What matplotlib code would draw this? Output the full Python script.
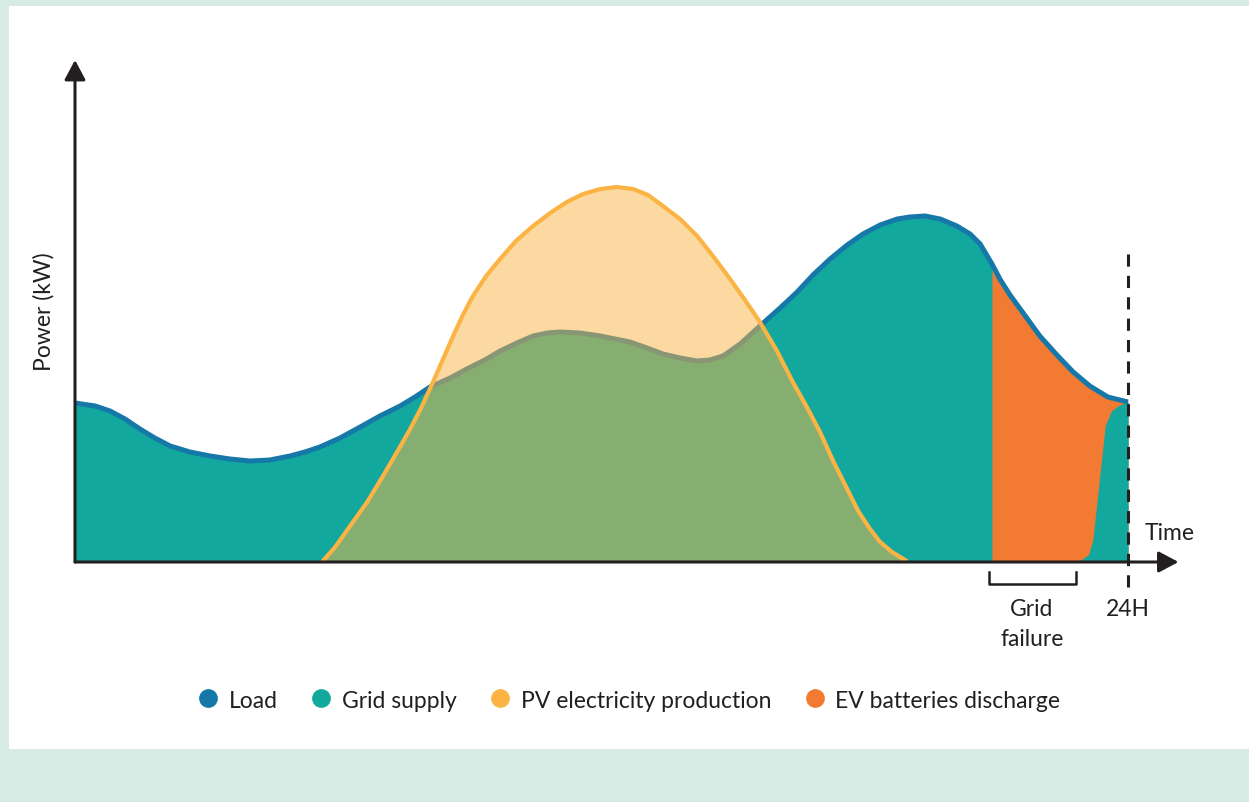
import numpy as np
import matplotlib.pyplot as plt
from matplotlib.lines import Line2D
from matplotlib.patches import Rectangle

plt.rcParams['font.family'] = ['Lato', 'DejaVu Sans']

# ---data (hours, kW)
load_h = [0.0, 0.46, 0.8, 1.14, 1.48, 1.82, 2.17, 2.62, 3.08, 3.53, 3.99, 4.44,
          4.9, 5.24, 5.58, 6.04, 6.5, 6.95, 7.41, 7.75, 8.09, 8.55, 8.93, 9.34,
          9.69, 10.07, 10.44, 10.76, 11.05, 11.51, 11.97, 12.31, 12.65, 13.04,
          13.4, 13.79, 14.18, 14.47, 14.77, 15.16, 15.61, 16.07, 16.46, 16.82,
          17.21, 17.6, 17.96, 18.35, 18.74, 19.03, 19.37, 19.72, 20.1, 20.4,
          20.63, 20.9, 21.08, 21.31, 21.61, 21.99, 22.38, 22.75, 23.13, 23.54, 24.0]
load_kw = [3.18, 3.12, 3.02, 2.86, 2.66, 2.48, 2.32, 2.20, 2.12, 2.06, 2.02, 2.04,
           2.12, 2.20, 2.30, 2.48, 2.70, 2.92, 3.12, 3.30, 3.50, 3.68, 3.86, 4.04,
           4.22, 4.38, 4.52, 4.58, 4.60, 4.58, 4.52, 4.46, 4.40, 4.28,
           4.16, 4.08, 4.02, 4.04, 4.12, 4.36, 4.72, 5.08, 5.40, 5.74,
           6.06, 6.34, 6.56, 6.74, 6.86, 6.90, 6.92, 6.86, 6.72, 6.56,
           6.36, 5.96, 5.66, 5.34, 4.98, 4.52, 4.14, 3.80, 3.52, 3.30, 3.20]

pv_h = [5.63, 5.93, 6.27, 6.66, 7.02, 7.34, 7.64, 7.91, 8.16, 8.39, 8.62, 8.84,
        9.07, 9.37, 9.69, 10.05, 10.44, 10.83, 11.21, 11.58, 11.97, 12.35, 12.72,
        13.06, 13.4, 13.79, 14.18, 14.54, 14.93, 15.27, 15.61, 16.0, 16.36, 16.68,
        16.98, 17.28, 17.6, 17.85, 18.12, 18.35, 18.62, 18.92]
pv_kw = [0.0, 0.30, 0.72, 1.20, 1.72, 2.20, 2.66, 3.12, 3.60, 4.06, 4.52, 4.94,
         5.32, 5.72, 6.06, 6.42, 6.72, 6.98, 7.20, 7.36, 7.46, 7.50, 7.46,
         7.34, 7.12, 6.86, 6.52, 6.12, 5.66, 5.24, 4.80, 4.22, 3.60, 3.10,
         2.60, 2.02, 1.46, 1.02, 0.66, 0.40, 0.20, 0.04]

# grid coming back at the end of the failure
grid_h = [22.86, 23.1, 23.2, 23.48, 23.62, 23.8, 24.0]
grid_kw = [0.0, 0.15, 0.45, 2.72, 3.02, 3.14, 3.20]

fail_start = 20.9
fail_end = 22.81

labels = ['Load', 'Grid supply', 'PV electricity production', 'EV batteries discharge']
c_load = '#1578A8'
c_grid = '#12A89D'
c_pv = '#FBB444'
c_ev = '#F37A33'
c_axis = '#231F20'

load_h = np.array(load_h)
load_kw = np.array(load_kw)

#---Plot
fig = plt.figure(figsize=(12.49, 8.03), dpi=100)
fig.patch.set_facecolor('#D6EBE4')
fig.patches.append(Rectangle((9/1249, 53/803), 1240/1249, 743/803,
                             transform=fig.transFigure, facecolor='white',
                             edgecolor='none', zorder=-10))

ax = fig.add_axes([75/1249, 240/803, 25.2*43.875/1249, 505/803])
ax.set_xlim(0, 25.2)
ax.set_ylim(0, 10.1)
ax.axis('off')

ax.fill_between(load_h, load_kw, color=c_grid, lw=0, zorder=1)
ax.fill_between(load_h, load_kw, where=load_h >= fail_start, color=c_ev, lw=0, zorder=1.1)
ax.fill_between(grid_h, grid_kw, color=c_grid, lw=0, zorder=1.2)
ax.plot(load_h, load_kw, color=c_load, lw=3.6, solid_capstyle='butt',
        solid_joinstyle='round', zorder=2)
ax.fill_between(pv_h, pv_kw, color=c_pv, alpha=0.5, lw=0, zorder=3)
ax.plot(pv_h, pv_kw, color=c_pv, lw=3.0, solid_joinstyle='round', zorder=4)

# axes with arrows
ax.annotate('', xy=(25.15, 0), xytext=(0, 0), annotation_clip=False, zorder=6,
            arrowprops=dict(arrowstyle='-|>,head_length=0.6,head_width=0.32',
                            mutation_scale=20, lw=2.2, color=c_axis,
                            shrinkA=0, shrinkB=0))
ax.annotate('', xy=(0, 10.04), xytext=(0, 0), annotation_clip=False, zorder=6,
            arrowprops=dict(arrowstyle='-|>,head_length=0.6,head_width=0.32',
                            mutation_scale=20, lw=2.2, color=c_axis,
                            shrinkA=0, shrinkB=0))

# 24H marker
ax.plot([24, 24], [-0.5, 6.26], color=c_axis, lw=2.2, ls=(0, (4, 3)),
        clip_on=False, zorder=5)

# grid failure bracket
ax.plot([fail_start - 0.06, fail_start - 0.06, fail_end, fail_end],
        [-0.2, -0.44, -0.44, -0.2], color=c_axis, lw=1.8, clip_on=False)

fs = 16.5
ax.text(21.81, -0.94, 'Grid', ha='center', va='center', fontsize=fs, color=c_axis)
ax.text(21.81, -1.54, 'failure', ha='center', va='center', fontsize=fs, color=c_axis)
ax.text(24, -0.94, '24H', ha='center', va='center', fontsize=fs, color=c_axis)
ax.text(24.96, 0.58, 'Time', ha='center', va='center', fontsize=fs, color=c_axis)
ax.text(-0.7, 5.02, 'Power (kW)', ha='center', va='center', rotation=90,
        fontsize=fs, color=c_axis)

handles = [Line2D([], [], marker='o', ls='', markersize=13.5, color=c, mec='none')
           for c in [c_load, c_grid, c_pv, c_ev]]
fig.legend(handles, labels, loc='center', bbox_to_anchor=(0.504, 0.127), ncol=4,
           frameon=False, fontsize=fs, handlelength=0.8, handletextpad=0.5,
           columnspacing=1.5, labelcolor=c_axis)

fig.savefig('out.png', dpi=100, facecolor=fig.get_facecolor())
